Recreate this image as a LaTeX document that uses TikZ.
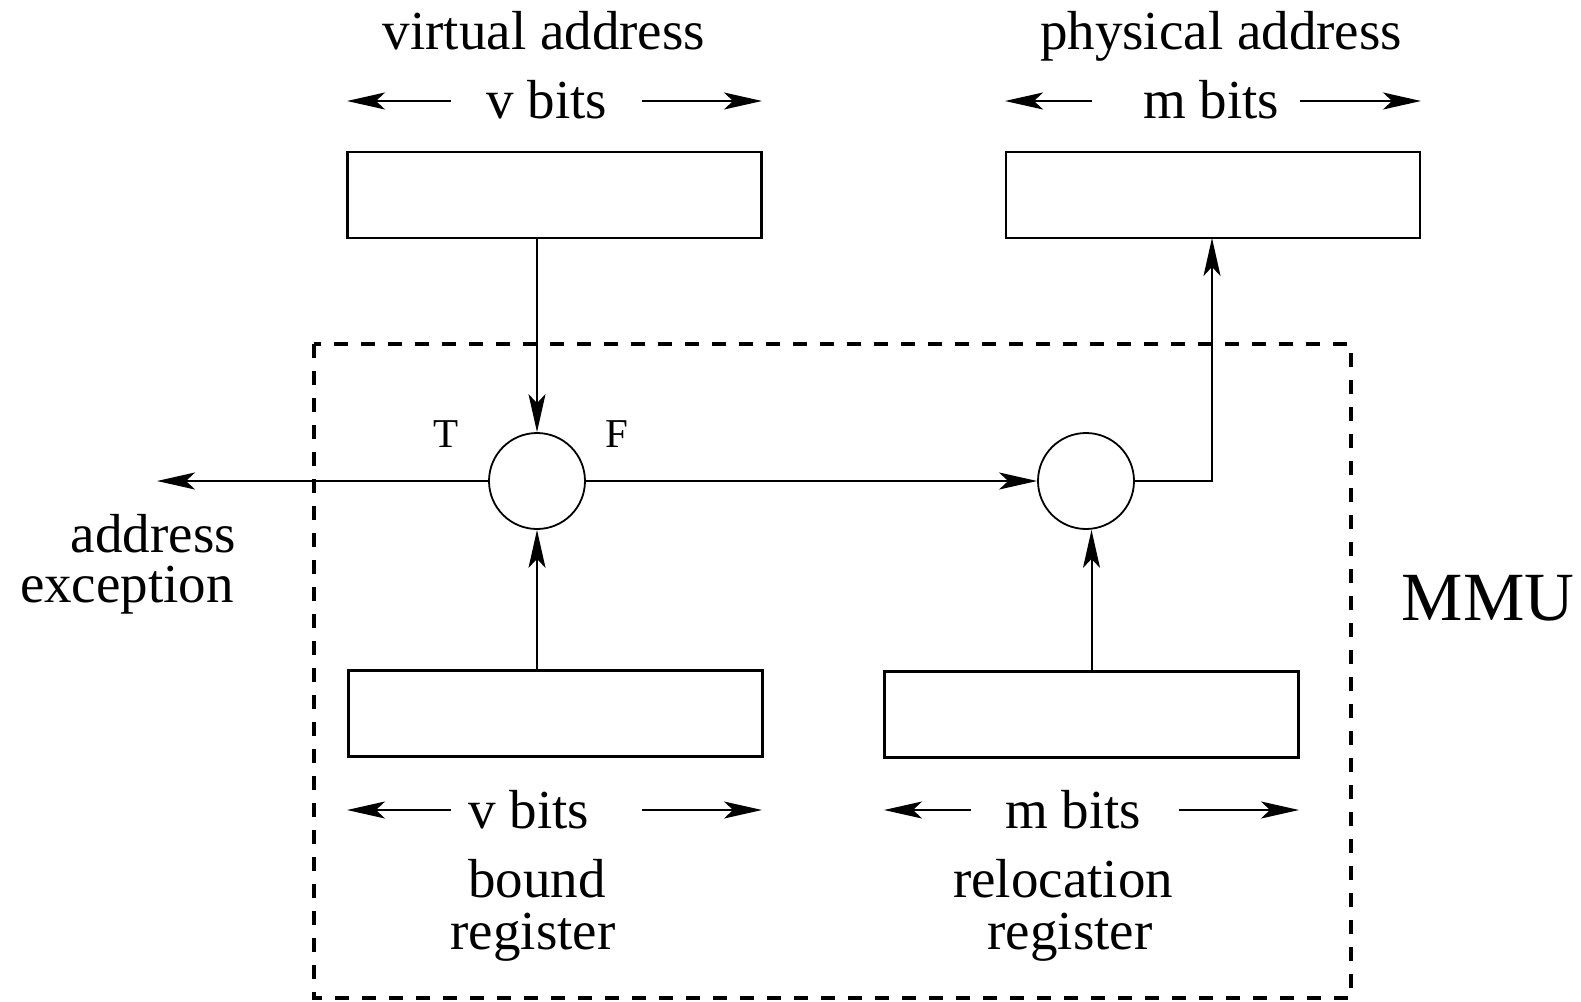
\documentclass[tikz,border=0pt]{standalone}
\usepackage{fontspec}
\setmainfont{Liberation Serif}
\usetikzlibrary{arrows.meta}
\begin{document}
\begin{tikzpicture}[x=1pt,y=-1pt,
  reg/.style={draw,line width=2.2pt,minimum width=414pt,minimum height=86pt,inner sep=0pt,outer sep=0pt},
  thickreg/.style={reg,line width=3pt},
  sum/.style={draw,circle,line width=1.8pt,minimum size=96pt,inner sep=0pt},
  conn/.style={line width=2pt,-{Stealth[length=38pt,width=17pt,inset=9pt]}},
  lbl/.style={font=\fontsize{55}{55}\selectfont,anchor=base,inner sep=0pt},
  small/.style={font=\fontsize{41}{41}\selectfont,anchor=base,inner sep=0pt}]
\useasboundingbox (0,0) rectangle (1581,1001);
% MMU boundary
\draw[line width=3.5pt,dash pattern=on 14pt off 13pt] (314,344) rectangle (1351,998);
% registers
\node[reg] (va) at (554.5,195) {};
\node[reg] (pa) at (1213,195) {};
\node[thickreg] (br) at (555,713) {};
\node[thickreg] (rr) at (1091.5,714.5) {};
% comparators
\node[sum] (c1) at (537,481) {};
\node[sum] (c2) at (1086,481) {};
% labels top
\node[lbl] (tva) at (544,49) {virtual address};
\node[lbl] (tvb) at (547,118) {v bits};
\node[lbl] (tpa) at (1221,49) {physical address};
\node[lbl] (tmb) at (1211,118) {m bits};
% labels bottom
\node[lbl] (bvb) at (529,828) {v bits};
\node[lbl] (bmb) at (1073,828) {m bits};
\node[lbl] (bb1) at (537,897) {bound};
\node[lbl] (bb2) at (533,949) {register};
\node[lbl] (rb1) at (1063,897) {relocation};
\node[lbl] (rb2) at (1070,949) {register};
% exception
\node[lbl,anchor=base east] (ex1) at (236,552) {address};
\node[lbl,anchor=base east] (ex2) at (234,602) {exception};
\node[font=\fontsize{69}{69}\selectfont,anchor=base,inner sep=0pt] (mmu) at (1488,620) {MMU};
\node[small] (tT) at (446,447) {T};
\node[small] (tF) at (617,447) {F};
% width arrows
\coordinate (a1s) at (451,101); \coordinate (a1e) at (347,101);
\coordinate (a2s) at (642,101); \coordinate (a2e) at (762,101);
\coordinate (a3s) at (1092,101); \coordinate (a3e) at (1005,101);
\coordinate (a4s) at (1300,101); \coordinate (a4e) at (1421,101);
\coordinate (b1s) at (451,810); \coordinate (b1e) at (347,810);
\coordinate (b2s) at (642,810); \coordinate (b2e) at (762,810);
\coordinate (b3s) at (971,810); \coordinate (b3e) at (884,810);
\coordinate (b4s) at (1179,810); \coordinate (b4e) at (1299,810);
\foreach \p in {a1,a2,a3,a4,b1,b2,b3,b4}{\draw[conn] (\p s) -- (\p e);}
% connectors
\draw[conn] (va.south -| c1) -- (c1.north);
\draw[conn] (br.north -| c1) -- (c1.south);
\coordinate (exc) at (157,481);
\draw[conn] (c1.west) -- (exc);
\draw[conn] (c1.east) -- (c2.west);
\draw[conn] (rr.north) -- (rr.north |- c2.south);
\coordinate (corner) at (1212,481);
\draw[conn] (c2.east) -- (corner) -- (corner |- pa.south);
\end{tikzpicture}
\end{document}
